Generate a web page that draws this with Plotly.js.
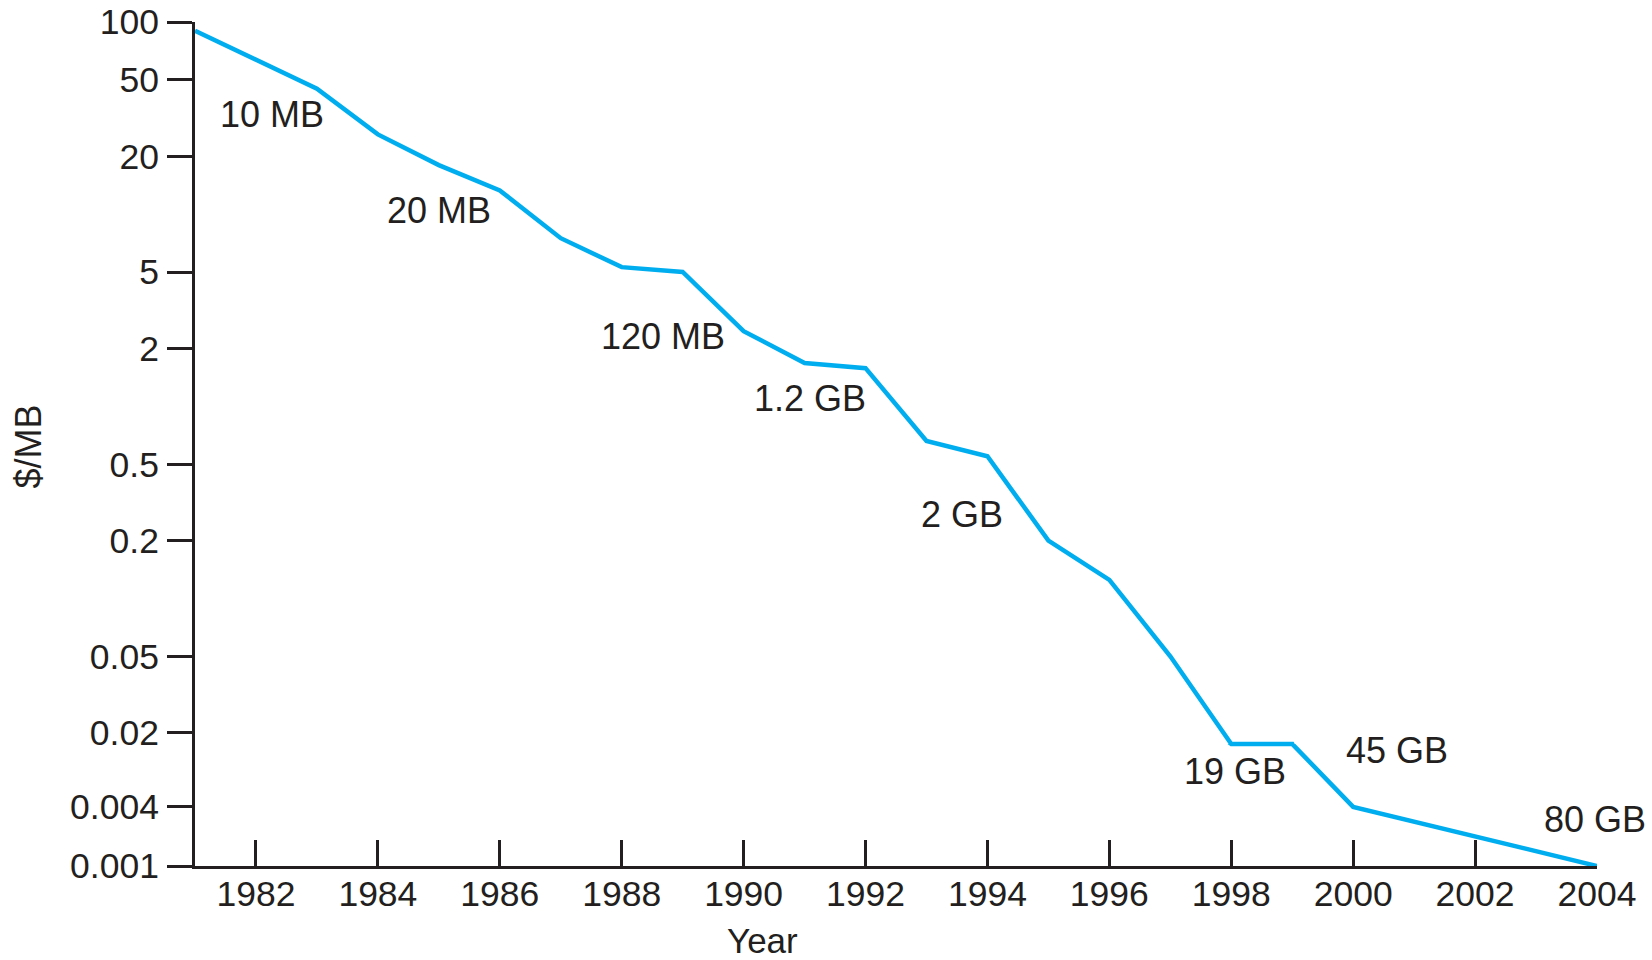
<!DOCTYPE html>
<html>
<head>
<meta charset="utf-8">
<script src="https://cdn.plot.ly/plotly-3.0.1.min.js"></script>
<style>
  html, body { margin: 0; padding: 0; background: #ffffff; }
  #chart { width: 1652px; height: 960px; }
</style>
</head>
<body>
<div id="chart"></div>
<script>
// ---- data ----
const years = [1981, 1983, 1984, 1985, 1986, 1987, 1988, 1989, 1990, 1991, 1992,
               1993, 1994, 1995, 1996, 1997, 1998, 1999, 2000, 2004];
const pricePerMB = [90, 45, 26, 18, 13.3, 7.5, 5.3, 5.0, 2.46, 1.68, 1.58,
                    0.66, 0.55, 0.2, 0.125, 0.05, 0.0175, 0.0175, 0.004, 0.001];

const capacityLabels = ["10 MB", "20 MB", "120 MB", "1.2 GB", "2 GB", "19 GB", "45 GB", "80 GB"];

const xTickVals = [1982, 1984, 1986, 1988, 1990, 1992, 1994, 1996, 1998, 2000, 2002, 2004];
const xTickText = ["1982", "1984", "1986", "1988", "1990", "1992", "1994", "1996", "1998", "2000", "2002", "2004"];
const yTopTickVals = [100, 50, 20, 5, 2, 0.5, 0.2, 0.05, 0.02];
const yTopTickText = ["100", "50", "20", "5", "2", "0.5", "0.2", "0.05", "0.02"];
const yBotTickVals = [0.004, 0.001];
const yBotTickText = ["0.004", "0.001"];

// ---- styling / layout ----
const INK = "#231f20";
const LINE = "#00aeef";
const FONT = "Liberation Sans, Arial, Helvetica, sans-serif";
// The reference value axis is logarithmic but compressed below ~0.0175:
// drawn as two stacked log axes that meet at that level.
const BREAK = 0.0175;
const SPLIT = 0.14464;

// label positions in paper coordinates (same order as capacityLabels)
const labelPos = [
  [0.0548, 0.8907], [0.1743, 0.7769], [0.3336, 0.6270], [0.4388, 0.5545],
  [0.5470, 0.4159], [0.7417, 0.1124], [0.8573, 0.1373], [0.9986, 0.0549]
];

const lineStyle = { color: LINE, width: 4.5 };
const traces = [
  { x: years, y: pricePerMB, xaxis: "x", yaxis: "y", mode: "lines", line: lineStyle,
    hoverinfo: "x+y", showlegend: false },
  { x: years, y: pricePerMB, xaxis: "x", yaxis: "y2", mode: "lines", line: lineStyle,
    hoverinfo: "x+y", showlegend: false }
];

const axisCommon = {
  showgrid: false, zeroline: false, showline: true,
  linecolor: INK, linewidth: 3, tickcolor: INK, tickwidth: 3,
  tickfont: { family: FONT, size: 35.5, color: INK }
};

const annFont = { family: FONT, size: 36, color: INK };
const annotations = capacityLabels.map((t, i) => ({
  text: t, xref: "paper", yref: "paper", x: labelPos[i][0], y: labelPos[i][1],
  xanchor: "center", yanchor: "middle", showarrow: false, font: annFont
}));
annotations.push({
  text: "$/MB", xref: "paper", yref: "paper", x: -0.1184, y: 0.497,
  textangle: -90, xanchor: "center", yanchor: "middle", showarrow: false,
  font: { family: FONT, size: 36, color: INK }
});
annotations.push({
  text: "Year", xref: "paper", yref: "paper", x: 0.405, y: -0.0877,
  xanchor: "center", yanchor: "middle", showarrow: false,
  font: { family: FONT, size: 35, color: INK }
});

const layout = {
  width: 1652, height: 960,
  margin: { l: 195, r: 55, t: 22, b: 94 },
  paper_bgcolor: "#ffffff", plot_bgcolor: "#ffffff",
  showlegend: false,
  xaxis: Object.assign({}, axisCommon, {
    type: "linear", range: [1981, 2004], anchor: "y2",
    tickmode: "array", tickvals: xTickVals, ticktext: xTickText,
    ticks: "inside", ticklen: 26, ticklabelstandoff: -6
  }),
  yaxis: Object.assign({}, axisCommon, {
    type: "log", range: [Math.log10(BREAK), Math.log10(100)], domain: [SPLIT, 1], anchor: "x",
    tickmode: "array", tickvals: yTopTickVals, ticktext: yTopTickText,
    ticks: "outside", ticklen: 25, ticklabelstandoff: 1
  }),
  yaxis2: Object.assign({}, axisCommon, {
    type: "log", range: [Math.log10(0.001), Math.log10(BREAK)], domain: [0, SPLIT], anchor: "x",
    tickmode: "array", tickvals: yBotTickVals, ticktext: yBotTickText,
    ticks: "outside", ticklen: 25, ticklabelstandoff: 1
  }),
  annotations: annotations
};

Plotly.newPlot("chart", traces, layout, { displayModeBar: false, staticPlot: true });
</script>
</body>
</html>
